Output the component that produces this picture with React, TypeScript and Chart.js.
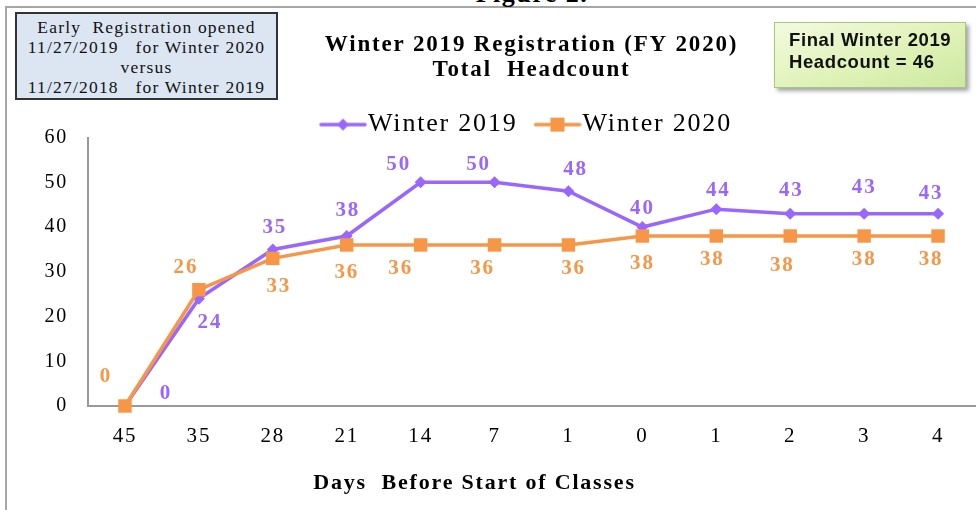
import React, { useEffect, useRef } from 'react';
import { Chart, registerables } from 'chart.js';

Chart.register(...registerables);

// ---- data ----
const categories = ['45', '35', '28', '21', '14', '7', '1', '0', '1', '2', '3', '4'];
const winter2019 = [0, 24, 35, 38, 50, 50, 48, 40, 44, 43, 43, 43];
const winter2020 = [0, 26, 33, 36, 36, 36, 36, 38, 38, 38, 38, 38];
const seriesNames = ['Winter 2019', 'Winter 2020'];
const titleLines = ['Winter 2019 Registration (FY 2020)', 'Total  Headcount'];
const xAxisTitle = 'Days  Before Start of Classes';
const yMin = 0;
const yMax = 60;
const yStep = 10;
const noteLines = ['Early  Registration opened', '11/27/2019   for Winter 2020', 'versus', '11/27/2018   for Winter 2019'];
const finalLines = ['Final Winter 2019', 'Headcount = 46'];

// ---- styles ----
const PURPLE = '#9966FF';
const ORANGE = '#F79646';
const SERIF = '"Liberation Serif", "Times New Roman", serif';
const SANS = '"Liberation Sans", Arial, sans-serif';
const LETTER_SPACING = '1.8px';
const X_TITLE_SHIFT = -57; // horizontal shift of the axis title from the plot centre
const X_TITLE_FROM_BOTTOM = 27;

// per-point label offsets (px) relative to the point, [dx, dy]
const LABEL_OFFSETS = [
  [[41, -12], [11, 24], [2, -22], [1, -25], [-22, -18], [-16, -18], [7, -22], [0, -18], [2, -19], [1, -23], [0, -26], [-7, -20]],
  [[-19, -29], [-13, -22], [6, 28], [0, 28], [-20, 24], [-12, 24], [5, 24], [0, 28], [-4, 24], [-8, 30], [0, 24], [-7, 24]],
];

function makeSwatch(color: string, kind: 'diamond' | 'square'): HTMLCanvasElement {
  const c = document.createElement('canvas');
  c.width = 48;
  c.height = 16;
  const ctx = c.getContext('2d')!;
  ctx.strokeStyle = color;
  ctx.lineWidth = 3.5;
  ctx.lineCap = 'round';
  ctx.beginPath();
  ctx.moveTo(2, 8);
  ctx.lineTo(46, 8);
  ctx.stroke();
  ctx.fillStyle = color;
  if (kind === 'diamond') {
    ctx.beginPath();
    ctx.moveTo(24, 2);
    ctx.lineTo(30, 8);
    ctx.lineTo(24, 14);
    ctx.lineTo(18, 8);
    ctx.closePath();
    ctx.fill();
  } else {
    ctx.fillRect(17, 1, 14, 14);
  }
  return c;
}

const spacingPlugin = {
  id: 'letterSpacing',
  afterInit(chart: any) {
    (chart.ctx as any).letterSpacing = LETTER_SPACING;
  },
  beforeUpdate(chart: any) {
    (chart.ctx as any).letterSpacing = LETTER_SPACING;
  },
  beforeDraw(chart: any) {
    (chart.ctx as any).letterSpacing = LETTER_SPACING;
  },
};

const valueLabelPlugin = {
  id: 'valueLabels',
  afterDatasetsDraw(chart: any) {
    const ctx = chart.ctx;
    chart.data.datasets.forEach((ds: any, i: number) => {
      const meta = chart.getDatasetMeta(i);
      const offs = LABEL_OFFSETS[i];
      ctx.save();
      ctx.font = `bold 21px ${SERIF}`;
      ctx.fillStyle = ds.borderColor;
      ctx.textAlign = 'center';
      ctx.textBaseline = 'middle';
      meta.data.forEach((pt: any, j: number) => {
        const [dx, dy] = offs[j];
        ctx.fillText(String(ds.data[j]), pt.x + dx, pt.y + dy);
      });
      ctx.restore();
    });
  },
};

const xTitlePlugin = {
  id: 'xTitle',
  afterDraw(chart: any) {
    const ctx = chart.ctx;
    const a = chart.chartArea;
    ctx.save();
    ctx.font = `bold 22px ${SERIF}`;
    ctx.fillStyle = '#000';
    ctx.textAlign = 'center';
    ctx.textBaseline = 'middle';
    ctx.fillText(xAxisTitle, (a.left + a.right) / 2 + X_TITLE_SHIFT, chart.height - X_TITLE_FROM_BOTTOM);
    ctx.restore();
  },
};

const legendTightPlugin = {
  id: 'legendTight',
  afterInit(chart: any) {
    const lg = chart.legend;
    if (lg && !lg.__wrapped) {
      const orig = lg.fit.bind(lg);
      lg.fit = function () {
        orig();
        this.height = Math.max(0, this.height - 10);
      };
      lg.__wrapped = true;
    }
  },
};

function ChartCanvas() {
  const ref = useRef<HTMLCanvasElement>(null);
  useEffect(() => {
    if (!ref.current) return;
    const swatches = [makeSwatch(PURPLE, 'diamond'), makeSwatch(ORANGE, 'square')];
    const chart = new Chart(ref.current, {
      type: 'line',
      data: {
        labels: categories,
        datasets: [
          {
            label: seriesNames[0],
            data: winter2019,
            borderColor: PURPLE,
            backgroundColor: PURPLE,
            borderWidth: 3.5,
            pointStyle: 'rectRot',
            pointRadius: 6,
            pointBorderWidth: 0,
            clip: false as any,
            order: 2,
            tension: 0,
          },
          {
            label: seriesNames[1],
            data: winter2020,
            borderColor: ORANGE,
            backgroundColor: ORANGE,
            borderWidth: 3.5,
            pointStyle: 'rect',
            pointRadius: 9.5,
            pointBorderWidth: 0,
            clip: false as any,
            order: 1,
            tension: 0,
          },
        ],
      },
      options: {
        responsive: false,
        animation: false,
        events: [],
        layout: { autoPadding: false, padding: { top: 0, left: 0, right: 1, bottom: 0 } },
        plugins: {
          title: {
            display: true,
            text: titleLines,
            color: '#000',
            font: { family: SERIF, size: 23, weight: 'bold', lineHeight: 1.1 },
            padding: { top: 32, bottom: 1 },
            fullSize: false,
          },
          legend: {
            display: true,
            fullSize: false,
            labels: {
              color: '#000',
              font: { family: SERIF, size: 26 },
              usePointStyle: true,
              pointStyleWidth: 24,
              padding: 28,
              generateLabels: (ch: any) => {
                const items = Chart.defaults.plugins.legend.labels.generateLabels(ch);
                items.sort((a: any, b: any) => a.datasetIndex - b.datasetIndex);
                return items.map((it: any) => ({ ...it, pointStyle: swatches[it.datasetIndex] }));
              },
            },
          },
          tooltip: { enabled: false },
        },
        scales: {
          x: {
            type: 'category',
            offset: true,
            grid: { display: false, drawTicks: false },
            border: { display: true, color: '#999999', width: 2 },
            ticks: { color: '#000', font: { family: SERIF, size: 21 }, padding: 18, autoSkip: false, maxRotation: 0 },
            title: { display: false },
            afterFit: (s: any) => {
              s.height = 104;
              s.paddingLeft = 0;
              s.paddingRight = 0;
            },
          },
          y: {
            min: yMin,
            max: yMax,
            grid: { display: false, drawTicks: false },
            border: { display: true, color: '#999999', width: 2 },
            ticks: { stepSize: yStep, color: '#000', font: { family: SERIF, size: 20 }, padding: 20 },
            afterFit: (s: any) => {
              s.width = 88;
            },
          },
        },
      } as any,
      plugins: [spacingPlugin, valueLabelPlugin, xTitlePlugin, legendTightPlugin],
    });
    return () => chart.destroy();
  }, []);
  return <canvas ref={ref} width={976} height={510} style={{ position: 'absolute', left: 0, top: 0 }} />;
}

export default function App() {
  return (
    <div style={{ position: 'fixed', left: 0, top: 0, width: 976, height: 510, overflow: 'hidden', background: '#fff' }}>
      <div
        style={{
          position: 'absolute',
          left: 5,
          top: 6,
          width: 1100,
          height: 700,
          borderLeft: '2px solid #a6a6a6',
          borderTop: '2px solid #a6a6a6',
        }}
      />
      <div
        style={{
          position: 'absolute',
          left: 432,
          width: 200,
          top: -21,
          textAlign: 'center',
          fontFamily: SERIF,
          fontWeight: 'bold',
          fontSize: 26,
          letterSpacing: '1.5px',
          lineHeight: '30px',
        }}
      >
        Figure 2.
      </div>
      <ChartCanvas />
      <div
        style={{
          position: 'absolute',
          left: 15,
          top: 12,
          width: 259,
          height: 81,
          background: '#dce6f2',
          border: '2px solid #333',
          fontFamily: SERIF,
          fontSize: 17.5,
          letterSpacing: '1.2px',
          lineHeight: '20px',
          textAlign: 'center',
          paddingTop: 3,
          boxSizing: 'content-box',
          color: '#111',
        }}
      >
        {noteLines.map((l, i) => (
          <div key={i} style={{ whiteSpace: 'pre' }}>{l}</div>
        ))}
      </div>
      <div
        style={{
          position: 'absolute',
          left: 774,
          top: 22,
          width: 192,
          height: 66,
          background: 'linear-gradient(160deg, #f3fadf 0%, #dff2b8 55%, #cde8a0 100%)',
          border: '1px solid #a9c77a',
          boxShadow: '3px 3px 4px rgba(0,0,0,0.35)',
          fontFamily: SANS,
          fontWeight: 'bold',
          fontSize: 18.5,
          letterSpacing: '0.6px',
          lineHeight: '22px',
          paddingLeft: 14,
          paddingTop: 6,
          boxSizing: 'border-box',
          color: '#111',
          whiteSpace: 'nowrap',
        }}
      >
        {finalLines.map((l, i) => (
          <div key={i}>{l}</div>
        ))}
      </div>
    </div>
  );
}
